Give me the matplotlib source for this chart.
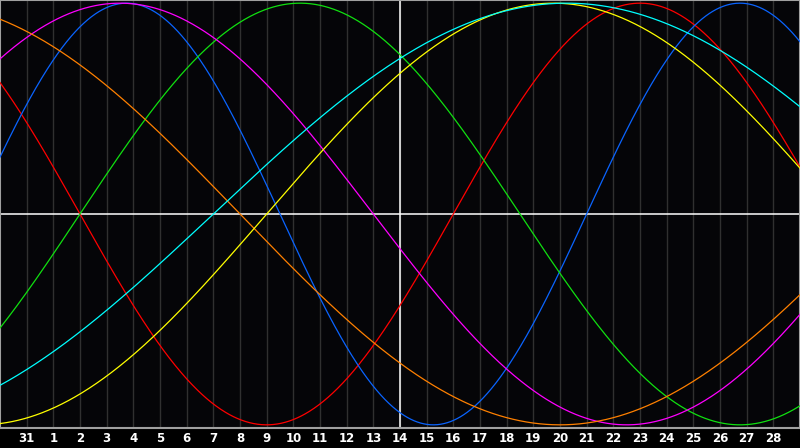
import numpy as np
import matplotlib
matplotlib.use("Agg")
import matplotlib.pyplot as plt

# day labels under the grid lines (end of one month, then the next)
day_labels = ["31"] + [str(d) for d in range(1, 29)]
# cycle lengths in days and their colours
periods = [28, 23, 33, 38, 48, 43, 53]
colors = ["#ff0000", "#0a64ff", "#10e010", "#ff00ff", "#ff8000", "#ffff00", "#00ffff"]
days_alive_at_left = 32799   # days since birth at the left edge
today_index = 15             # white marker line ("14")
n_days = 30

fig = plt.figure(figsize=(8, 4.48), dpi=100, facecolor="#000000")
ax = fig.add_axes([0, 20 / 448, 1, 428 / 448])
ax.set_facecolor("#050508")

u = np.linspace(0, n_days, 1201)
for p, c in zip(periods, colors):
    t = days_alive_at_left + u
    ax.plot(u, np.sin(2 * np.pi * t / p), color=c, lw=0.9, zorder=3)

ax.axhline(0, color="white", lw=1.1, zorder=2)
ax.axvline(today_index, color="white", lw=1.1, zorder=2)

ax.set_xlim(0, n_days)
ax.set_ylim(-1.015, 1.015)
ax.set_xticks(range(1, len(day_labels) + 1))
ax.set_xticklabels(day_labels, color="white", fontsize=8.5, fontweight="bold")
ax.tick_params(axis="x", length=0, pad=3)
ax.set_yticks([])
ax.grid(axis="x", color="#303030", lw=1.0, zorder=1)
for s in ax.spines.values():
    s.set_color("#a0a0a0")
    s.set_linewidth(1.5)

fig.savefig("out.png", dpi=100, facecolor=fig.get_facecolor())
